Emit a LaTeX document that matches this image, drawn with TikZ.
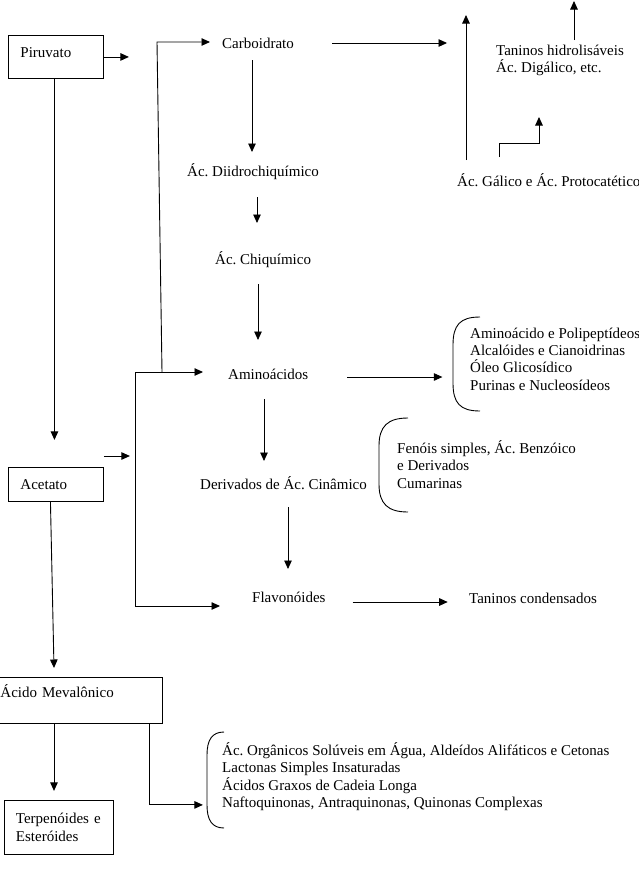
\documentclass[tikz,border=0pt]{standalone}
\usepackage{fontspec}
\setmainfont{Liberation Serif}
\usetikzlibrary{arrows.meta,positioning,calc}
\frenchspacing

\begin{document}
\begin{tikzpicture}[
  x=1pt, y=-1pt,
  font=\fontsize{15}{17.3}\selectfont,
  box/.style={draw, line width=0.9pt, align=left, anchor=north west},
  txt/.style={inner sep=0pt, anchor=west, align=left},
  arr/.style={-{Triangle[length=8.5pt,width=7.5pt]}, line width=0.9pt},
  ln/.style={line width=0.9pt}
]
\useasboundingbox (0,0) rectangle (639,871);

\node[box, text width=71pt, inner xsep=12pt, minimum height=43pt, text height=10pt, text depth=9pt] (piru) at (8,35) {Piruvato};
\node[box, text width=71pt, inner xsep=12pt, minimum height=34pt] (acet) at (8,467) {Acetato};
\node[box, text width=157pt, inner xsep=5pt, minimum height=46pt, text height=12pt, text depth=18pt] (acid) at (-5,677) {Ácido Mevalônico};
\node[box, text width=86pt, inner xsep=11.5pt, minimum height=54pt] (terp) at (4,800) {Terpenóides e\\Esteróides};

\node[txt] (carb) at (222,43) {Carboidrato};
\node[txt] (diid) at (187,172) {Ác. Diidrochiquímico};
\node[txt] (chiq) at (215,260) {Ác. Chiquímico};
\node[txt] (amino) at (228,374) {Aminoácidos};
\node[txt] (deriv) at (200,483) {Derivados de Ác. Cinâmico};
\node[txt] (flav) at (252,597) {Flavonóides};
\node[txt] (tcond) at (469,598) {Taninos condensados};
\node[txt] (thid) at (496,60.5) {Taninos hidrolisáveis\\Ác. Digálico, etc.};
\node[txt] (galico) at (457,180) {Ác. Gálico e Ác. Protocatético};
\node[txt] (amlist) at (470,359) {Aminoácido e Polipeptídeos\\Alcalóides e Cianoidrinas\\Óleo Glicosídico\\Purinas e Nucleosídeos};
\node[txt] (fenlist) at (397,464.5) {Fenóis simples, Ác. Benzóico\\e Derivados\\Cumarinas};
\node[txt] (mevlist) at (222,776.5) {Ác. Orgânicos Solúveis em Água, Aldeídos Alifáticos e Cetonas\\Lactonas Simples Insaturadas\\Ácidos Graxos de Cadeia Longa\\Naftoquinonas, Antraquinonas, Quinonas Complexas};

\coordinate (ca) at (157,42);
\coordinate (cb) at (162,372);
\coordinate (va) at (135,372);
\coordinate (vb) at (135,606);

\draw[arr] (piru.east) -- ++(25,0);
\draw[arr] ([xshift=-1.5pt]piru.south) -- ++(0,361);
\draw[arr] (acet.north east) ++(0,-11) -- ++(26,0);
\draw[arr] ($(acet.south)+(-5.5,0)$) -- ($(acid.north west)+(59,-9)$);
\draw[arr] ($(acid.south west)+(59,0)$) -- ++(0,67);
\draw[arr] ($(acid.south east)+(-13,0)$) -- ++(0,81) -- ++(53,0);

\draw[arr] (cb) -- (ca) -- ++(53,0);
\draw[arr] (va) -- ++(68,0);
\draw[arr] (va) -- (vb) -- ++(85,0);

\draw[arr] (carb.east) ++(38,0) -- ++(115,0);
\draw[arr] (galico.west) ++(9,-20) -- ++(0,-145);
\draw[arr] (thid.west) ++(78,-20.5) -- ++(0,-39);
\draw[arr] (galico.west) ++(42,-23) -- ++(0,-14) -- ++(40,0) -- ++(0,-26);

\draw[arr] (carb.west) ++(30,17) -- ++(0,92);
\draw[arr] (diid.west) ++(70,25) -- ++(0,26);
\draw[arr] (chiq.west) ++(43,24) -- ++(0,56);
\draw[arr] (amino.west) ++(36,25) -- ++(0,62);
\draw[arr] (deriv.west) ++(88,24) -- ++(0,62);
\draw[arr] (amino.east) ++(39,3) -- ++(95,0);
\draw[arr] (flav.east) ++(27,5) -- ++(95,0);

\draw[ln] (480,317) .. controls (460,317) and (453,325) .. (453,345) -- (453,383) .. controls (453,403) and (460,411) .. (480,411);
\draw[ln] (408,418) .. controls (388,418) and (379,426) .. (379,446) -- (379,484) .. controls (379,504) and (388,512) .. (408,512);
\draw[ln] (224,732) .. controls (212,732) and (207,740) .. (207,755) -- (207,805) .. controls (207,820) and (212,828) .. (224,828);

\end{tikzpicture}
\end{document}
